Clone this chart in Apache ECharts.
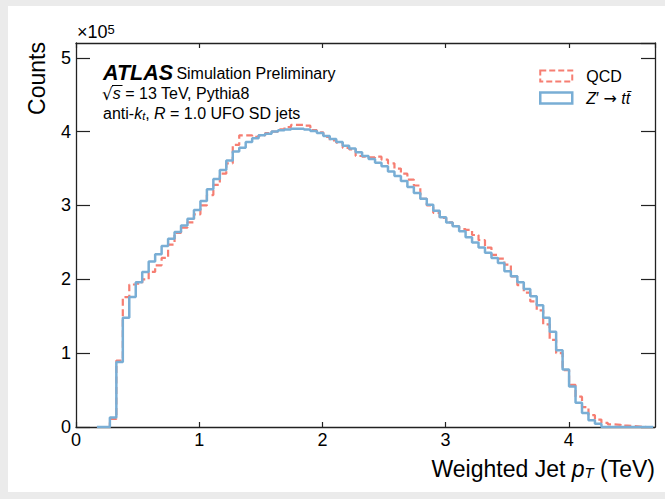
<!DOCTYPE html>
<html>
<head>
<meta charset="utf-8">
<script src="https://cdn.jsdelivr.net/npm/echarts@6/dist/echarts.min.js"></script>
<style>
  html, body { margin: 0; padding: 0; background: #ebebeb; }
  #panel { position: absolute; left: 8px; top: 6px; width: 657px; height: 486px; background: #ffffff; }
  #chart { position: absolute; left: 0; top: 0; width: 665px; height: 499px; }
</style>
</head>
<body>
<div id="panel"></div>
<div id="chart"></div>
<script>
// Histogram binning (TeV)
const binStart = 0.17;
const binWidth = 0.0525;

// Bin contents, in units of 10^5 counts
const qcdCounts = [
  0, 0, 0.11, 0.90, 1.76, 1.93, 1.94, 2.00, 2.10, 2.19,
  2.29, 2.47, 2.63, 2.70, 2.77, 2.88, 3.00, 3.14, 3.28, 3.43,
  3.57, 3.82, 3.95, 3.95, 3.93, 3.95, 3.98, 4.00, 4.03, 4.06,
  4.09, 4.09, 4.08, 4.02, 3.99, 3.93, 3.88, 3.85, 3.78, 3.76,
  3.67, 3.66, 3.65, 3.66, 3.62, 3.57, 3.50, 3.43, 3.35, 3.27,
  3.09, 3.00, 2.90, 2.83, 2.77, 2.72, 2.68, 2.67, 2.60, 2.53,
  2.43, 2.33, 2.28, 2.20, 2.04, 1.92, 1.82, 1.70, 1.58, 1.39,
  1.18, 1.00, 0.77, 0.57, 0.41, 0.27, 0.16, 0.10, 0.055, 0.035,
  0.03, 0.02, 0.012, 0.005, 0, 0
];
const zprimeCounts = [
  0, 0, 0.13, 0.88, 1.48, 1.76, 1.96, 2.10, 2.24, 2.34,
  2.45, 2.55, 2.64, 2.73, 2.82, 2.94, 3.06, 3.22, 3.36, 3.48,
  3.61, 3.73, 3.78, 3.86, 3.91, 3.95, 3.97, 4.00, 4.02, 4.03,
  4.04, 4.04, 4.03, 4.01, 3.98, 3.94, 3.90, 3.86, 3.81, 3.77,
  3.72, 3.67, 3.63, 3.58, 3.53, 3.46, 3.40, 3.33, 3.25, 3.17,
  3.09, 3.01, 2.93, 2.84, 2.77, 2.72, 2.65, 2.57, 2.50, 2.43,
  2.36, 2.29, 2.22, 2.11, 2.04, 1.96, 1.87, 1.77, 1.65, 1.48,
  1.29, 1.04, 0.78, 0.55, 0.33, 0.19, 0.09, 0.045, 0, 0,
  0, 0, 0, 0, 0, 0
];

// Axis ranges and ticks
const xRange = [0, 4.7];
const yRange = [0, 5.2];
const xTickStep = 1;
const yTickStep = 1;

const seriesNames = ['QCD', "Z\u2032 \u2192 tt\u0304"];
const qcdColor = '#f67e72';
const zpColor = '#79aed5';
const FONT = '"Liberation Sans", Arial, Helvetica, sans-serif';
const SYM = '"DejaVu Sans", sans-serif';

// Turn bin contents into step-line vertices: one per left edge plus the closing right edge
function histPoints(counts) {
  const pts = counts.map((v, i) => [binStart + i * binWidth, v]);
  pts.push([binStart + counts.length * binWidth, counts[counts.length - 1]]);
  return pts;
}

const intLabel = v => (Math.abs(v - Math.round(v)) < 1e-9 ? String(Math.round(v)) : '');
const frame = { color: '#222', width: 1.3 };

function xAxisDef(pos, labels) {
  return {
    type: 'value', position: pos, min: xRange[0], max: xRange[1], interval: xTickStep,
    axisLine: { show: true, onZero: false, lineStyle: frame },
    axisTick: { show: true, inside: true, length: 5, lineStyle: { color: '#222', width: 1.2 } },
    axisLabel: { show: labels, color: '#000', fontSize: 18, fontFamily: FONT, margin: 4,
                 showMaxLabel: false, formatter: intLabel },
    splitLine: { show: false }
  };
}
function yAxisDef(pos, labels) {
  return {
    type: 'value', position: pos, min: yRange[0], max: yRange[1], interval: yTickStep,
    axisLine: { show: true, onZero: false, lineStyle: frame },
    axisTick: { show: true, inside: true, length: 14, lineStyle: { color: '#222', width: 1.2 } },
    axisLabel: { show: labels, color: '#000', fontSize: 18, fontFamily: FONT, margin: 5,
                 showMaxLabel: false, formatter: intLabel },
    splitLine: { show: false }
  };
}

const chart = echarts.init(document.getElementById('chart'), null, { renderer: 'svg', width: 665, height: 499 });

chart.setOption({
  animation: false,
  backgroundColor: 'transparent',
  grid: { left: 76, top: 43, width: 579, height: 384, show: false },
  xAxis: [xAxisDef('bottom', true), xAxisDef('top', false)],
  yAxis: [yAxisDef('left', true), yAxisDef('right', false)],
  legend: {
    orient: 'vertical', left: 534, top: 63, itemWidth: 32, itemHeight: 11, itemGap: 6,
    icon: 'rect',
    textStyle: { fontSize: 16, fontFamily: FONT, color: '#000', padding: [0, 0, 0, 9],
                 rich: { it: { fontStyle: 'italic', fontSize: 16, fontFamily: FONT },
                         ar: { fontSize: 16, fontFamily: SYM } } },
    formatter: name => name === seriesNames[1] ? '{it|Z}\u2032 {ar|\u2192} {it|tt\u0304}' : name,
    data: [
      { name: seriesNames[0], itemStyle: { color: 'rgba(0,0,0,0)', borderColor: qcdColor, borderWidth: 2, borderType: [6, 3] } },
      { name: seriesNames[1], itemStyle: { color: 'rgba(0,0,0,0)', borderColor: zpColor, borderWidth: 2.5 } }
    ]
  },
  series: [
    {
      name: seriesNames[0], type: 'line', step: 'end', data: histPoints(qcdCounts),
      showSymbol: false, symbol: 'none', z: 2,
      lineStyle: { color: qcdColor, width: 2.2, type: [7, 3.5] },
      itemStyle: { color: qcdColor }
    },
    {
      name: seriesNames[1], type: 'line', step: 'end', data: histPoints(zprimeCounts),
      showSymbol: false, symbol: 'none', z: 3,
      lineStyle: { color: zpColor, width: 2.5 },
      itemStyle: { color: zpColor }
    }
  ],
  graphic: [
    { type: 'text', x: 37, y: 42, rotation: Math.PI / 2,
      style: { text: 'Counts', font: '23px ' + FONT, fill: '#000', align: 'right', verticalAlign: 'middle' } },
    { type: 'text', x: 77, y: 23,
      style: { text: '\u00d710{sup|5}', font: '18px ' + FONT, fill: '#000', align: 'left', verticalAlign: 'top',
               rich: { sup: { fontSize: 13, fontFamily: FONT, verticalAlign: 'top', lineHeight: 12 } } } },
    { type: 'text', x: 655, y: 457,
      style: { text: 'Weighted Jet {i|p}{sub|T} (TeV)', font: '23px ' + FONT, fill: '#000', align: 'right', verticalAlign: 'top',
               rich: { i: { fontStyle: 'italic', fontSize: 23, fontFamily: FONT },
                       sub: { fontStyle: 'italic', fontSize: 15, fontFamily: FONT, verticalAlign: 'bottom', lineHeight: 15 } } } },
    { type: 'text', x: 103, y: 62,
      style: { text: '{b|ATLAS} {r|Simulation Preliminary}', fill: '#000', align: 'left', verticalAlign: 'top',
               rich: { b: { fontStyle: 'italic', fontWeight: 'bold', fontSize: 21.5, fontFamily: FONT },
                       r: { fontSize: 16, fontFamily: FONT } } } },
    { type: 'text', x: 102, y: 85,
      style: { text: '{sq|\u221a}{i|s} = 13 TeV, Pythia8', font: '16px ' + FONT, fill: '#000', align: 'left', verticalAlign: 'top',
               rich: { sq: { fontSize: 17, fontFamily: SYM },
                       i: { fontStyle: 'italic', fontSize: 16, fontFamily: FONT } } } },
    { type: 'line', shape: { x1: 112, y1: 85.5, x2: 122.5, y2: 85.5 }, style: { stroke: '#000', lineWidth: 1 } },
    { type: 'text', x: 103, y: 105,
      style: { text: 'anti-{i|k}{sub|t}, {i|R} = 1.0 UFO SD jets', font: '16px ' + FONT, fill: '#000', align: 'left', verticalAlign: 'top',
               rich: { i: { fontStyle: 'italic', fontSize: 16, fontFamily: FONT },
                       sub: { fontStyle: 'italic', fontSize: 11, fontFamily: FONT, verticalAlign: 'bottom', lineHeight: 11 } } } }
  ]
});
</script>
</body>
</html>
